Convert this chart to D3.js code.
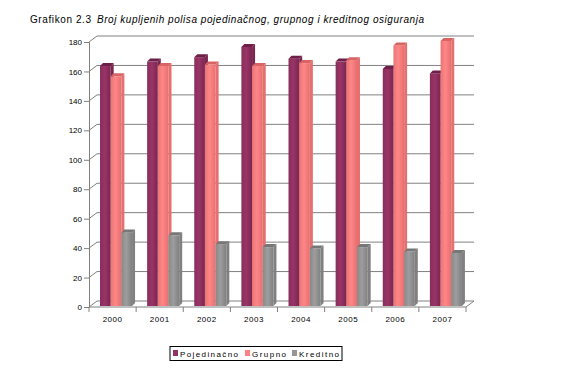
<!DOCTYPE html>
<html><head><meta charset="utf-8">
<script src="https://cdn.jsdelivr.net/npm/d3@7"></script>
<style>body{margin:0;background:#fff}</style>
</head><body>
<svg id="c" width="576" height="371"></svg>
<script>
const years = ["2000","2001","2002","2003","2004","2005","2006","2007"];
const seriesNames = ["Pojedinačno","Grupno","Kreditno"];
const pojedinacno = [163,166,169,176,168,166,161,158];
const grupno = [156,163,164,163,165,167,177,180];
const kreditno = [50,48,42,40,39,40,37,36];
const yTicks = [0,20,40,60,80,100,120,140,160,180];
const colors = ["#943263","#ff8080","#969696"];
const darkColors = ["#6e1f48","#d86464","#777777"];
const sideColors = ["#7a2651","#e66f6f","#808080"];
const values = [pojedinacno, grupno, kreditno];

const svg = d3.select("#c");
const font = "'Liberation Sans', Arial, sans-serif";
const DX = 8, DY = -6;

// title
svg.append("text").attr("x",30).attr("y",23).attr("font-family",font).attr("font-size",10)
  .attr("textLength",61).attr("lengthAdjust","spacing").attr("fill","#000").text("Grafikon 2.3");
svg.append("text").attr("x",97).attr("y",23).attr("font-family",font).attr("font-size",10)
  .attr("font-style","italic").attr("textLength",327).attr("lengthAdjust","spacing")
  .attr("fill","#000").text("Broj kupljenih polisa pojedinačnog, grupnog i kreditnog osiguranja");

const x0 = d3.scaleBand().domain(years).range([89,466]);
const x1 = d3.scaleBand().domain(seriesNames).range([x0.bandwidth()*0.17, x0.bandwidth()*0.85]).padding(0);
const yFront = d3.scaleLinear().domain([0,180]).range([307,42]);
const yBack = d3.scaleLinear().domain([0,180]).range([307+DY,42+DY]);

const g = svg.append("g");
// gridlines on back wall + diagonal connectors
yTicks.forEach(t=>{
  g.append("line").attr("x1",89+DX).attr("x2",466+DX).attr("y1",yBack(t)).attr("y2",yBack(t))
    .attr("stroke","#808080").attr("stroke-width",1);
  g.append("line").attr("x1",89).attr("x2",89+DX).attr("y1",yFront(t)).attr("y2",yBack(t))
    .attr("stroke","#808080").attr("stroke-width",1);
});
// floor front edge and right diagonal
g.append("line").attr("x1",89).attr("x2",466).attr("y1",yFront(0)).attr("y2",yFront(0)).attr("stroke","#808080");
g.append("line").attr("x1",466).attr("x2",466+DX).attr("y1",yFront(0)).attr("y2",yBack(0)).attr("stroke","#808080");

// y axis
const yAxis = d3.axisLeft(yFront).tickValues(yTicks).tickSize(5).tickPadding(2);
const ya = svg.append("g").attr("transform","translate(89,0)").call(yAxis);
ya.select(".domain").attr("stroke","#808080");
ya.selectAll(".tick line").attr("stroke","#808080");
ya.selectAll("text").attr("font-family",font).attr("font-size",8).attr("fill","#000");

// x axis
const xAxis = d3.axisBottom(x0).tickSize(0).tickPadding(9);
const xa = svg.append("g").attr("transform",`translate(0,${yFront(0)})`).call(xAxis);
xa.select(".domain").remove();
xa.selectAll("text").attr("font-family",font).attr("font-size",8).attr("fill","#000").attr("letter-spacing","0.5");
// category ticks
const bounds = years.map(y=>x0(y)).concat([x0(years[years.length-1])+x0.bandwidth()]);
xa.selectAll(".ctick").data(bounds).enter().append("line").attr("class","ctick")
  .attr("x1",d=>d).attr("x2",d=>d).attr("y1",0).attr("y2",5).attr("stroke","#808080");

// gradients
const defs = svg.append("defs");
colors.forEach((c,i)=>{
  const gr = defs.append("linearGradient").attr("id","gr"+i).attr("x1","0").attr("x2","1").attr("y1","0").attr("y2","0");
  gr.append("stop").attr("offset","0").attr("stop-color",d3.color(c).darker(0.25));
  gr.append("stop").attr("offset","0.45").attr("stop-color",d3.color(c).brighter(0.12));
  gr.append("stop").attr("offset","1").attr("stop-color",sideColors[i]);
});

// bars
const bdx = 4, bdy = -3; // mid-depth shift for bar front face
const bd = 3; // bar depth offset for cap
const bw = x1.bandwidth();
const yBar = d3.scaleLinear().domain([0,180]).range([306,41]);
years.forEach((yr,j)=>{
  seriesNames.forEach((s,i)=>{
    const v = values[i][j];
    const bx = x0(yr) + x1(s) + bdx - 1;
    const top = yBar(v) + bdy + 3;
    const bottom = yBar(0);
    // right side
    g.append("path").attr("d",`M${bx+bw},${top} L${bx+bw+bd},${top-bd} L${bx+bw+bd},${bottom-bd} L${bx+bw},${bottom} Z`)
      .attr("fill",sideColors[i]);
    // front face
    g.append("rect").attr("x",bx).attr("y",top).attr("width",bw).attr("height",bottom-top)
      .attr("fill",`url(#gr${i})`);
    // top cap
    g.append("path").attr("d",`M${bx},${top} L${bx+bd},${top-bd} L${bx+bw+bd},${top-bd} L${bx+bw},${top} Z`)
      .attr("fill",darkColors[i]);
  });
});

// legend
const lg = svg.append("g");
lg.append("rect").attr("x",170).attr("y",346.5).attr("width",172).attr("height",14)
  .attr("fill","#fff").attr("stroke","#000").attr("stroke-width",1);
const lx = [173,245,292];
const lw = [58,34,40];
seriesNames.forEach((s,i)=>{
  lg.append("rect").attr("x",lx[i]).attr("y",350).attr("width",5).attr("height",6).attr("fill",colors[i]);
  lg.append("text").attr("x",lx[i]+7).attr("y",357).attr("font-family",font).attr("font-size",8)
    .attr("textLength",lw[i]).attr("lengthAdjust","spacing").attr("fill","#000").text(s);
});
</script>
</body></html>
